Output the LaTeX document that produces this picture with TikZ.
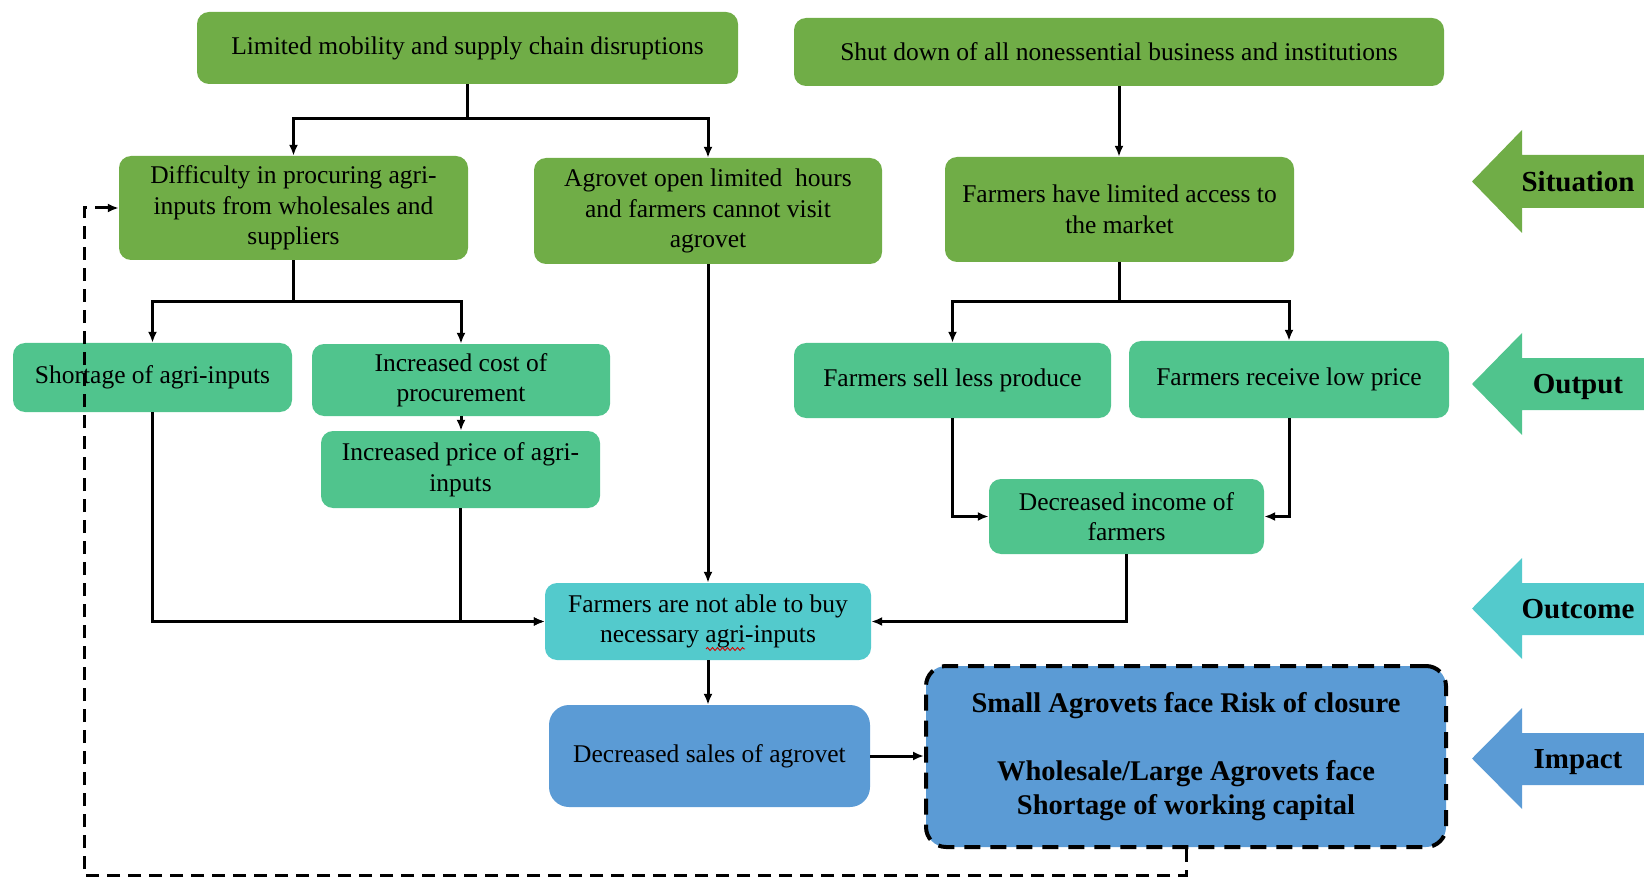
\documentclass[tikz,border=0pt]{standalone}
\usepackage{fontspec}
\setmainfont{Liberation Serif}
\usetikzlibrary{arrows.meta,decorations.pathmorphing}

\definecolor{sitgreen}{RGB}{112,173,71}
\definecolor{outgreen}{RGB}{80,196,141}
\definecolor{outcyan}{RGB}{83,202,204}
\definecolor{impblue}{RGB}{91,155,213}

\begin{document}
\begin{tikzpicture}[x=1pt,y=-1pt,
  box/.style={rounded corners=12pt, inner sep=0pt, align=center,
    font=\fontsize{25.5}{30.5}\selectfont, text=black},
  sitbox/.style={box, fill=sitgreen},
  outbox/.style={box, fill=outgreen},
  ocbox/.style={box, fill=outcyan},
  impbox/.style={box, fill=impblue},
  conn/.style={line width=3pt, -{Latex[length=11pt,width=9pt]}},
  fback/.style={line width=3pt, dash pattern=on 13pt off 8pt,
    -{Latex[length=11pt,width=9pt]}},
  tag/.style={font=\fontsize{29}{34}\selectfont\bfseries, text=black,
    text height=19.5pt, text depth=0pt, inner sep=0pt},
]
\useasboundingbox (0,0) rectangle (1644,877);

% level-marker arrows on the right
\begin{scope}
\clip (0,0) rectangle (1644,877);
\fill[sitgreen] (1650,155) -- (1522,155) -- (1522,130) -- (1472,181.5)
  -- (1522,233) -- (1522,208) -- (1650,208) -- cycle;
\fill[outgreen] (1650,358) -- (1522,358) -- (1522,333) -- (1472,384)
  -- (1522,435) -- (1522,410) -- (1650,410) -- cycle;
\fill[outcyan] (1650,583) -- (1522,583) -- (1522,558) -- (1472,608.5)
  -- (1522,659) -- (1522,635) -- (1650,635) -- cycle;
\fill[impblue] (1650,733) -- (1522,733) -- (1522,708) -- (1472,758.5)
  -- (1522,809) -- (1522,785) -- (1650,785) -- cycle;
\end{scope}
\node[tag] (lsit) at (1578,181.5) {Situation};
\node[tag] (lout) at (1578,384) {Output};
\node[tag] (loc)  at (1578,608.5) {Outcome};
\node[tag] (limp) at (1578,758.5) {Impact};

% situation
\node[sitbox, minimum width=541pt, minimum height=72pt] (A) at (467.5,48)
  {Limited mobility and supply chain disruptions};
\node[sitbox, minimum width=650pt, minimum height=68pt] (D) at (1119,52)
  {Shut down of all nonessential business and institutions};
\node[sitbox, minimum width=349pt, minimum height=104pt] (B) at (293.5,208)
  {Difficulty in procuring agri-\\inputs from wholesales and\\suppliers};
\node[sitbox, minimum width=348pt, minimum height=106pt] (C) at (708,211)
  {Agrovet open limited~ hours\\and farmers cannot visit\\agrovet};
\node[sitbox, minimum width=349pt, minimum height=105pt] (E) at (1119.5,209.5)
  {Farmers have limited access to\\the market};

% output
\node[outbox, minimum width=279pt, minimum height=69pt] (F) at (152.5,377.5)
  {Shortage of agri-inputs};
\node[outbox, minimum width=298pt, minimum height=72pt] (G) at (461,380)
  {Increased cost of\\procurement};
\node[outbox, minimum width=279pt, minimum height=77pt] (H) at (460.5,469.5)
  {Increased price of agri-\\inputs};
\node[outbox, minimum width=317pt, minimum height=75pt] (J) at (952.5,380.5)
  {Farmers sell less produce};
\node[outbox, minimum width=320pt, minimum height=77pt] (K) at (1289,379.5)
  {Farmers receive low price};
\node[outbox, minimum width=275pt, minimum height=75pt] (L) at (1126.5,516.5)
  {Decreased income of\\farmers};

% outcome
\node[ocbox, minimum width=326pt, minimum height=77pt] (I) at (708,621.5)
  {Farmers are not able to buy\\necessary agri-inputs};

% impact
\node[impbox, rounded corners=20pt, minimum width=321pt, minimum height=102pt] (M) at (709.5,756)
  {Decreased sales of agrovet};
\node[impbox, rounded corners=20pt, draw=black, line width=4pt,
  dash pattern=on 16pt off 10pt, minimum width=520pt, minimum height=181pt,
  font=\fontsize{28.5}{34}\selectfont\bfseries] (N) at (1186,756.5)
  {Small Agrovets face Risk of closure\\[34pt]Wholesale/Large Agrovets face\\Shortage of working capital};

% spelling underline
\draw[red!85!black, line width=0.9pt, decorate,
  decoration={snake, amplitude=1.5pt, segment length=5pt}]
  (706,649) -- (745,649);

% connectors
\draw[conn] (A.south) -- ++(0,34) -| (B.north);
\draw[conn] (A.south) -- ++(0,34) -| (C.north);
\draw[conn] (D.south) -- (D.south |- E.north);
\draw[conn] (B.south) -- ++(0,41) -| (F.north);
\draw[conn] (B.south) -- ++(0,41) -| (G.north);
\draw[conn] (G.south) -- (G.south |- H.north);
\draw[conn] (E.south) -- ++(0,39) -| (J.north);
\draw[conn] (E.south) -- ++(0,39) -| (K.north);
\draw[conn] (J.south) |- (L.west);
\draw[conn] (K.south) |- (L.east);
\draw[conn] (F.south) |- (I.west);
\draw[conn] (H.south) |- (I.west);
\draw[conn] (C.south) -- (I.north);
\draw[conn] (L.south) |- (I.east);
\draw[conn] (I.south) -- (I.south |- M.north);
\draw[conn] (M.east) -- (M.east -| N.west);

% feedback loop
\coordinate (fb) at (84,875);
\draw[fback] (N.south) |- (fb) |- (B.west);
\end{tikzpicture}
\end{document}
